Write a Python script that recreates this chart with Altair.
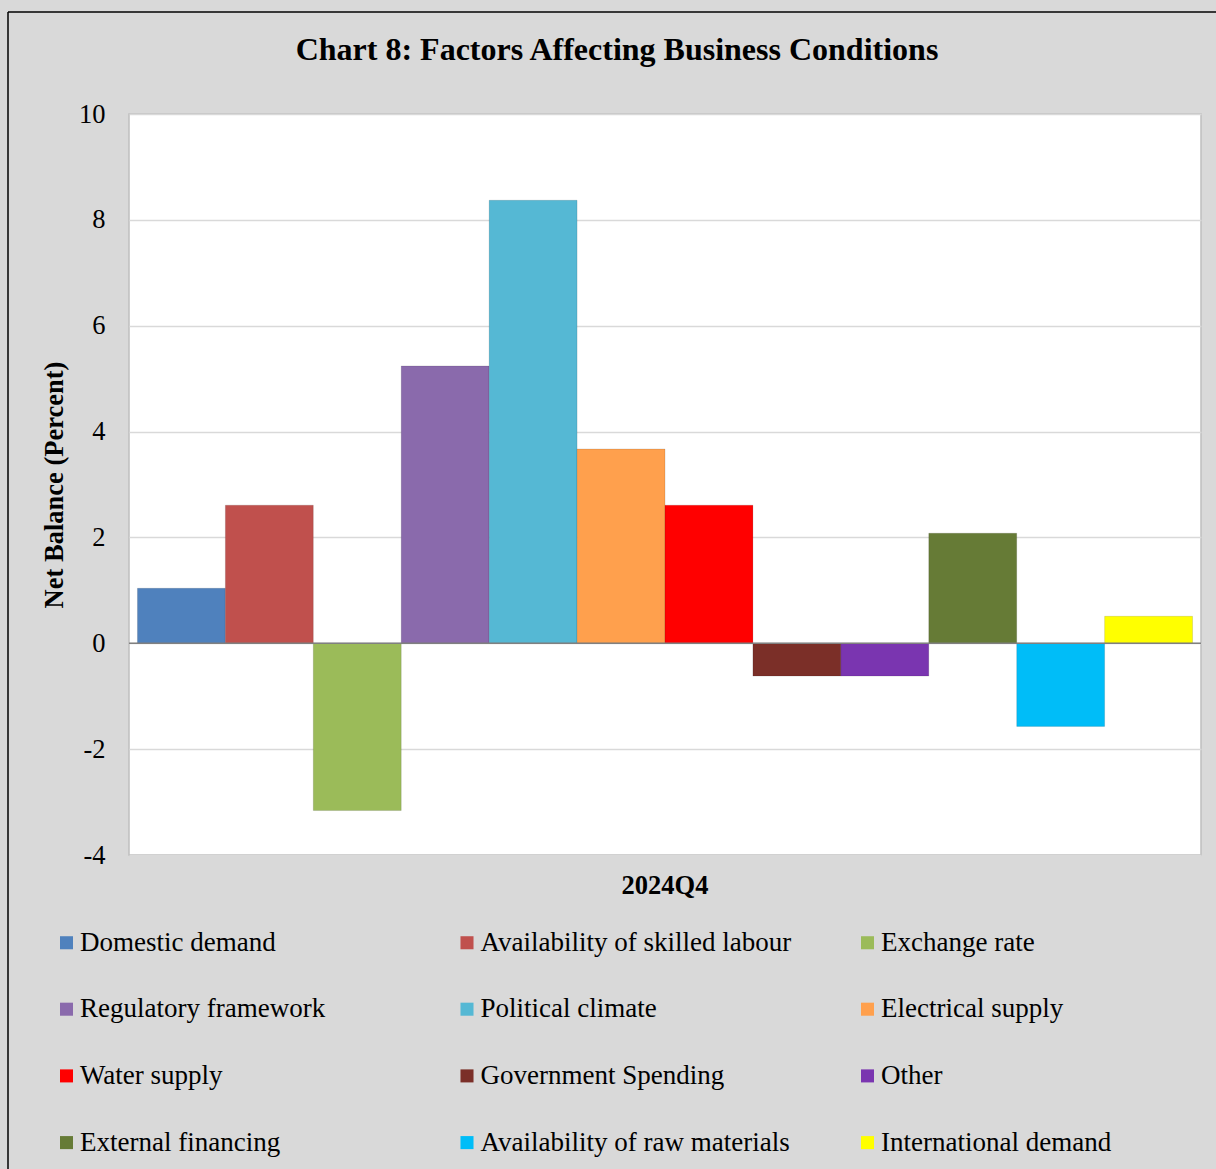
import altair as alt
import pandas as pd

factors = [
    "Domestic demand", "Availability of skilled labour", "Exchange rate",
    "Regulatory framework", "Political climate", "Electrical supply",
    "Water supply", "Government Spending", "Other",
    "External financing", "Availability of raw materials", "International demand",
]
values = [1.04, 2.61, -3.16, 5.24, 8.37, 3.67, 2.61, -0.62, -0.62, 2.08, -1.57, 0.51]
colors = ["#4F81BD", "#C0504D", "#9BBB59", "#8A6AAC", "#55B8D4", "#FFA04D",
          "#FF0000", "#7B2F28", "#7A35B0", "#667B36", "#00BDF8", "#FFFF00"]
quarter = "2024Q4"
y_ticks = [-4, -2, 0, 2, 4, 6, 8, 10]

df = pd.DataFrame({"Quarter": [quarter] * len(factors), "Factor": factors, "Value": values})

W, H = 1072, 741
LEFT, TOP = 129, 114
FONT = "Liberation Serif"
FS = 26.5

bars = alt.Chart(df).mark_bar(stroke="#00000033", strokeWidth=0.6).encode(
    x=alt.X("Quarter:N", title=None,
            scale=alt.Scale(paddingInner=0, paddingOuter=0.008),
            axis=alt.Axis(labelFont=FONT, labelFontSize=FS, labelFontWeight="bold",
                          labelColor="#000", labelAngle=0, ticks=False, domain=False,
                          labelPadding=17)),
    xOffset=alt.XOffset("Factor:N", sort=factors, scale=alt.Scale(paddingInner=0, paddingOuter=0)),
    y=alt.Y("Value:Q", title="Net Balance (Percent)",
            scale=alt.Scale(domain=[-4, 10], nice=False),
            axis=alt.Axis(values=y_ticks, labelExpr="'' + datum.value",
                          labelFont=FONT, labelFontSize=FS,
                          labelColor="#000", ticks=False, domain=False,
                          labelPadding=24, gridColor="#D9D9D9", gridWidth=1.5,
                          titleFont=FONT, titleFontSize=FS, titleFontWeight="bold",
                          titleColor="#000", titlePadding=10)),
    color=alt.Color("Factor:N", sort=factors,
                    scale=alt.Scale(domain=factors, range=colors),
                    legend=alt.Legend(title=None, orient="none", legendX=-76, legendY=815,
                                      direction="horizontal",
                                      columns=3, gridAlign="all", columnPadding=62.5,
                                      rowPadding=38.7, symbolType="square", symbolSize=170,
                                      symbolStrokeWidth=0, labelFont=FONT,
                                      labelFontSize=27, labelColor="#000",
                                      labelLimit=450, symbolOffset=0, labelOffset=0)),
)

zero = alt.Chart(pd.DataFrame({"z": [0]})).mark_rule(color="#808080", strokeWidth=1.5).encode(
    y=alt.Y("z:Q", scale=alt.Scale(domain=[-4, 10], nice=False))
)

border_left = alt.Chart(pd.DataFrame({"a": [0]})).mark_rule(color="#000", strokeWidth=1.5, clip=False).encode(
    x=alt.value(8 - LEFT), y=alt.value(12 - TOP), y2=alt.value(1169 - TOP)
)
border_top = alt.Chart(pd.DataFrame({"a": [0]})).mark_rule(color="#000", strokeWidth=1.5, clip=False).encode(
    x=alt.value(8 - LEFT), x2=alt.value(1216 - LEFT), y=alt.value(12 - TOP)
)

chart = alt.layer(bars, zero, border_left, border_top).properties(
    width=W, height=H,
    title=alt.Title("Chart 8: Factors Affecting Business Conditions",
                    font=FONT, fontSize=32, fontWeight="bold", color="#000",
                    anchor="middle", frame="bounds", dx=5, offset=-56),
    autosize=alt.AutoSizeParams(type="none"),
    padding={"left": LEFT, "top": TOP, "right": 1216 - LEFT - W, "bottom": 1169 - TOP - H},
    background="#D9D9D9",
).configure_view(fill="white", stroke="#BFBFBF", strokeWidth=1.5)

chart.save("out.html", embed_options={"renderer": "svg", "actions": False})
